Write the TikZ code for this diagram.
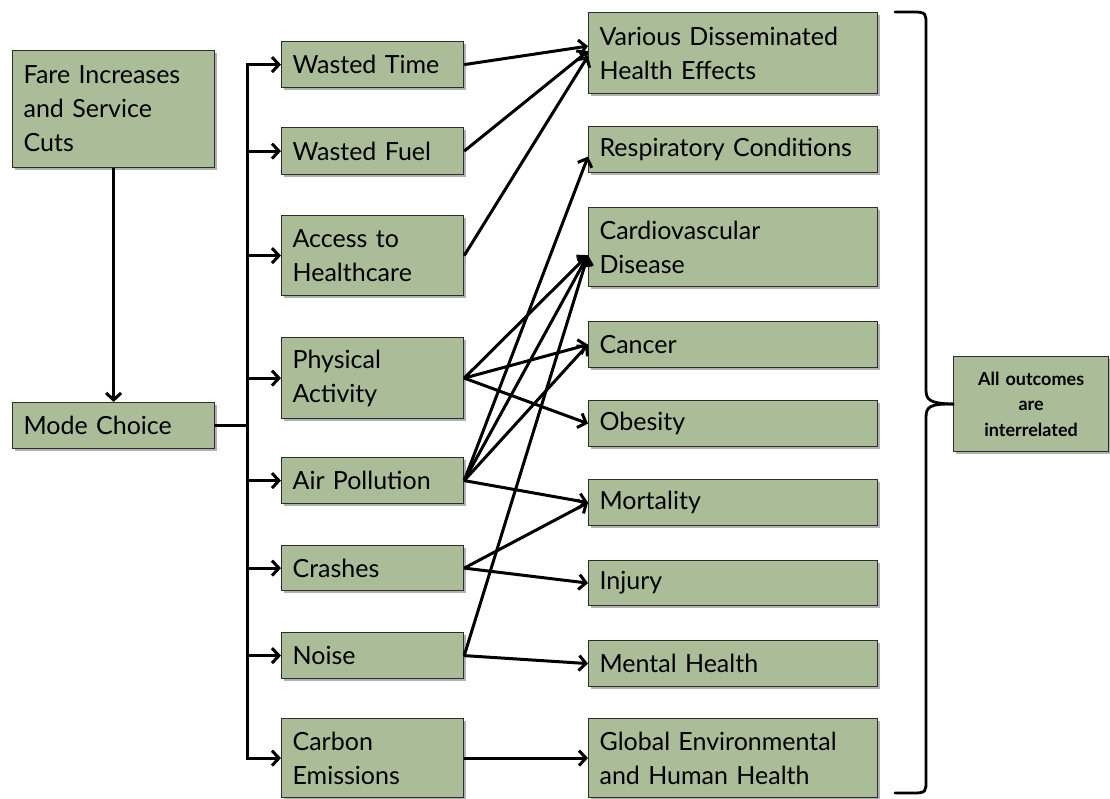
\documentclass[tikz,border=0pt]{standalone}
\usepackage{fontspec}
\setmainfont{Lato}
\usetikzlibrary{arrows.meta,shadows,calc}
\definecolor{boxfill}{RGB}{171,188,153}
\definecolor{boxline}{RGB}{45,45,45}
\begin{document}
\begin{tikzpicture}[x=1pt,y=-1pt,
  base/.style={draw=boxline, line width=1.2pt, fill=boxfill, rectangle,
    inner xsep=11pt, inner ysep=0pt, align=left, anchor=north west,
    font=\fontsize{25}{34}\selectfont,
    drop shadow={shadow xshift=2.5pt, shadow yshift=-2.5pt, opacity=0.3, fill=black}},
  leftbox/.style={base, minimum width=202pt, text width=180pt},
  midbox/.style={base, minimum width=182pt, text width=160pt},
  rightbox/.style={base, minimum width=289pt, text width=267pt},
  notebox/.style={base, minimum width=155pt, text width=147pt, inner xsep=4pt, align=center,
    font=\bfseries\fontsize{18}{25.5}\selectfont},
  ln/.style={line width=3pt, line cap=rect},
  arr/.style={line width=3pt, -{Straight Barb[length=7pt,width=15pt]}},
  bracestyle/.style={line width=2.8pt, line cap=round}]
\useasboundingbox (0,0) rectangle (1110,798);

% left column
\node[leftbox, minimum height=117pt] (fare) at (12,50) {Fare Increases\\and Service\\Cuts};
\node[leftbox, minimum height=46pt] (mode) at (12,402) {Mode Choice};

% middle column
\node[midbox, minimum height=46pt] (wt) at (281,41) {Wasted Time};
\node[midbox, minimum height=47pt] (wf) at (281,127) {Wasted Fuel};
\node[midbox, minimum height=80pt] (ah) at (281,215) {Access to\\Healthcare};
\node[midbox, minimum height=81pt] (pa) at (281,337) {Physical\\Activity};
\node[midbox, minimum height=46pt] (ap) at (281,457) {Air Pollution};
\node[midbox, minimum height=45pt] (cr) at (281,545) {Crashes};
\node[midbox, minimum height=46pt] (no) at (281,632) {Noise};
\node[midbox, minimum height=79pt] (ce) at (281,718) {Carbon\\Emissions};

% right column
\node[rightbox, minimum height=81pt] (va) at (588,12) {Various Disseminated\\Health Effects};
\node[rightbox, minimum height=46pt] (rc) at (588,126) {Respiratory Conditions};
\node[rightbox, minimum height=79pt] (cv) at (588,207) {Cardiovascular\\Disease};
\node[rightbox, minimum height=46pt] (ca) at (588,321) {Cancer};
\node[rightbox, minimum height=46pt] (ob) at (588,400) {Obesity};
\node[rightbox, minimum height=46pt] (mo) at (588,479) {Mortality};
\node[rightbox, minimum height=45pt] (inj) at (588,560) {Injury};
\node[rightbox, minimum height=46pt] (mh) at (588,640) {Mental Health};
\node[rightbox, minimum height=79pt] (ge) at (588,718) {Global Environmental\\and Human Health};

% note box
\node[notebox, minimum height=95pt] (ao) at (953,356) {All outcomes\\are\\interrelated};

% fare -> mode
\draw[arr] (fare.south) -- (mode.north);

% trunk
\coordinate (tk) at (247,0);
\draw[ln] (mode.east) -- (mode.east -| tk);
\draw[ln] (tk |- wt.west) -- (tk |- ce.west);
\foreach \n in {wt,wf,ah,pa,ap,cr,no,ce}
  \draw[arr] (tk |- \n.west) -- (\n.west);

% effects
\draw[arr] (wt.east) -- ([yshift=7pt]va.west);
\draw[arr] (wf.east) -- ([yshift=2pt]va.west);
\draw[arr] (ah.east) -- ([yshift=-3pt]va.west);
\draw[arr] (ap.east) -- ([yshift=-7pt]rc.west);
\draw[arr] (pa.east) -- ([yshift=-8pt]cv.west);
\draw[arr] (ap.east) -- ([yshift=-8pt]cv.west);
\draw[arr] (no.east) -- ([yshift=-8pt]cv.west);
\draw[arr] (pa.east) -- (ca.west);
\draw[arr] (ap.east) -- (ca.west);
\draw[arr] (pa.east) -- (ob.west);
\draw[arr] (ap.east) -- (mo.west);
\draw[arr] (cr.east) -- (mo.west);
\draw[arr] (cr.east) -- (inj.west);
\draw[arr] (no.east) -- (mh.west);
\draw[arr] (ce.east) -- (ge.west);

% brace
\coordinate (btop) at (895,12);
\coordinate (bbot) at (895,793);
\draw[bracestyle] (btop) -- (914,12) .. controls (926,12) and (926,14) .. (926,24)
  -- (926,390) .. controls (926,400) and (930,403.5) .. (ao.west);
\draw[bracestyle] (bbot) -- (914,793) .. controls (926,793) and (926,791) .. (926,781)
  -- (926,417) .. controls (926,407) and (930,403.5) .. (ao.west);
\end{tikzpicture}
\end{document}
